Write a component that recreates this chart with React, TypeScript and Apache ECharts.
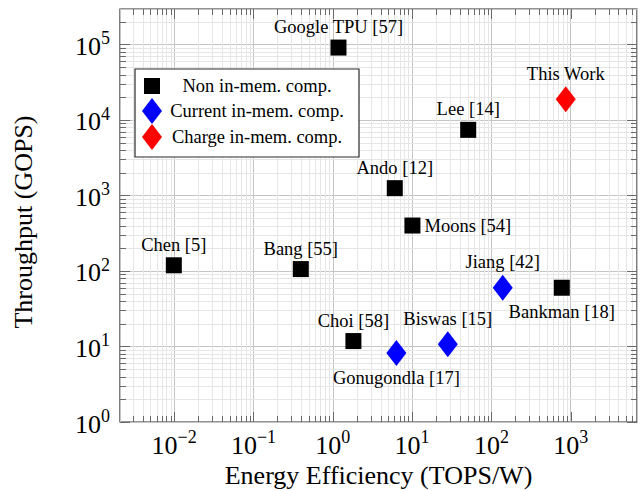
import React, { useEffect, useRef } from "react";
import * as echarts from "echarts";

// ---- data ----
const nonNames = ["Google TPU [57]", "Lee [14]", "Ando [12]", "Moons [54]", "Chen [5]", "Bang [55]", "Choi [58]", "Bankman [18]"];
const nonEff = [1.18, 51, 6.05, 10.1, 0.0099, 0.395, 1.82, 772];
const nonThr = [91000, 7400, 1250, 400, 119, 106, 11.8, 60];
const nonPos = ["top", "top", "top", "right", "top", "top", "top", "bottom"];

const curNames = ["Gonugondla [17]", "Biswas [15]", "Jiang [42]"];
const curEff = [6.34, 28.2, 139];
const curThr = [8.2, 10.7, 60];
const curPos = ["bottom", "top", "top"];

const chgNames = ["This Work"];
const chgEff = [866];
const chgThr = [18800];
const chgPos = ["top"];

const legendLabels = ["Non in-mem. comp.", "Current in-mem. comp.", "Charge in-mem. comp."];
const xTitle = "Energy Efficiency (TOPS/W)";
const yTitle = "Throughput (GOPS)";

const X_MIN = 0.002075;
const X_MAX = 6855;
const Y_MIN = 1;
const Y_MAX = 295000;

const FONT = "Liberation Serif";

function gridValues(min: number, max: number) {
  const out: number[][] = [];
  for (let e = Math.floor(Math.log10(min)); e <= Math.ceil(Math.log10(max)); e++) {
    for (let k = 1; k <= 9; k++) {
      const v = k * Math.pow(10, e);
      if (v >= min * 0.9999 && v <= max * 1.0001) out.push([v, k === 1 ? 1 : 0]);
    }
  }
  return out;
}

const supMap = (n: number) => (n < 0 ? "\u2212" + String(-n) : String(n));

function tickFormatter(v: number) {
  const e = Math.log10(v);
  const r = Math.round(e);
  if (Math.abs(e - r) > 1e-6) return "";
  return "{b|10}{s|" + supMap(r) + "}";
}

function mkData(names: string[], xs: number[], ys: number[], pos: string[]) {
  return names.map((n, i) => {
    let dist = 3;
    if (pos[i] === "right") dist = 4;
    if (pos[i] === "bottom") dist = n.startsWith("Bankman") ? 7 : 2;
    return {
      name: n,
      value: [xs[i], ys[i]],
      label: { position: pos[i], distance: dist },
    };
  });
}

export default function App() {
  const ref = useRef<HTMLDivElement>(null);
  useEffect(() => {
    if (!ref.current) return;
    const chart = echarts.init(ref.current, null, { renderer: "svg" });
    const xg = gridValues(X_MIN, X_MAX);
    const yg = gridValues(Y_MIN, Y_MAX);
    const tickColor = "#6a6a6a";
    const minorColor = "#e6e6e6";
    const LBL = 18.5;
    const labelStyle = {
      show: true,
      formatter: "{b}",
      color: "#000",
      fontFamily: FONT,
      fontSize: LBL,
    };
    const richLbl = {
      b: { fontSize: 26, fontFamily: FONT, color: "#000", lineHeight: 30, verticalAlign: "bottom" },
      s: { fontSize: 18, fontFamily: FONT, color: "#000", verticalAlign: "top", lineHeight: 30 },
    };
    const lgText = (t: string, y: number) => ({
      type: "text",
      z: 101,
      x: 257,
      y,
      style: { text: t, fill: "#000", fontFamily: FONT, fontSize: LBL, align: "center", verticalAlign: "middle" },
    });
    const option: any = {
      animation: false,
      backgroundColor: "#fff",
      textStyle: { fontFamily: FONT },
      grid: {
        left: 120,
        right: 3,
        top: 9,
        bottom: 69,
        show: true,
        containLabel: false,
        outerBoundsMode: "none",
        borderColor: "#2b2b2b",
        borderWidth: 1.2,
        backgroundColor: "transparent",
      },
      xAxis: {
        type: "log",
        logBase: 10,
        min: X_MIN,
        max: X_MAX,
        splitNumber: 7,
        axisLine: { show: false },
        axisTick: { show: false },
        splitLine: { show: true, lineStyle: { color: "#c4c4c4", width: 1 } },
        axisLabel: { formatter: tickFormatter, rich: richLbl, margin: 6, showMinLabel: true, showMaxLabel: true },
        name: xTitle,
        nameLocation: "middle",
        nameGap: 38,
        nameTextStyle: { fontFamily: FONT, fontSize: 26, color: "#000" },
      },
      yAxis: {
        type: "log",
        logBase: 10,
        min: Y_MIN,
        max: Y_MAX,
        splitNumber: 5,
        axisLine: { show: false },
        axisTick: { show: false },
        splitLine: { show: true, lineStyle: { color: "#c4c4c4", width: 1 } },
        axisLabel: { formatter: tickFormatter, rich: richLbl, margin: 10 },
        name: yTitle,
        nameLocation: "middle",
        nameGap: 84,
        nameTextStyle: { fontFamily: FONT, fontSize: 26, color: "#000", padding: [0, 13, 0, 0] },
      },
      series: [
        {
          type: "custom",
          silent: true,
          z: 1,
          data: xg.map((d) => [d[0], 1, d[1]]),
          renderItem: (params: any, api: any) => {
            const cs = params.coordSys;
            const x = Math.round(api.coord([api.value(0), 1])[0]) + 0.5;
            const major = api.value(2) === 1;
            const len = major ? 10 : 6;
            const ch: any[] = [];
            if (!major)
              ch.push({ type: "line", shape: { x1: x, y1: cs.y, x2: x, y2: cs.y + cs.height }, style: { stroke: minorColor, lineWidth: 1 } });
            ch.push({ type: "line", shape: { x1: x, y1: cs.y + cs.height, x2: x, y2: cs.y + cs.height - len }, style: { stroke: tickColor, lineWidth: 1 } });
            ch.push({ type: "line", shape: { x1: x, y1: cs.y, x2: x, y2: cs.y + len }, style: { stroke: tickColor, lineWidth: 1 } });
            return { type: "group", children: ch };
          },
        },
        {
          type: "custom",
          silent: true,
          z: 1,
          data: yg.map((d) => [1, d[0], d[1]]),
          renderItem: (params: any, api: any) => {
            const cs = params.coordSys;
            const y = Math.round(api.coord([1, api.value(1)])[1]) + 0.5;
            const major = api.value(2) === 1;
            const len = major ? 10 : 6;
            const ch: any[] = [];
            if (!major)
              ch.push({ type: "line", shape: { x1: cs.x, y1: y, x2: cs.x + cs.width, y2: y }, style: { stroke: minorColor, lineWidth: 1 } });
            ch.push({ type: "line", shape: { x1: cs.x, y1: y, x2: cs.x + len, y2: y }, style: { stroke: tickColor, lineWidth: 1 } });
            ch.push({ type: "line", shape: { x1: cs.x + cs.width, y1: y, x2: cs.x + cs.width - len, y2: y }, style: { stroke: tickColor, lineWidth: 1 } });
            return { type: "group", children: ch };
          },
        },
        {
          name: legendLabels[0],
          type: "scatter",
          z: 5,
          symbol: "rect",
          symbolSize: 16,
          itemStyle: { color: "#000", opacity: 1 },
          label: labelStyle,
          data: mkData(nonNames, nonEff, nonThr, nonPos),
        },
        {
          name: legendLabels[1],
          type: "scatter",
          z: 5,
          symbol: "diamond",
          symbolSize: [20, 26],
          itemStyle: { color: "#0000ff", opacity: 1 },
          label: labelStyle,
          data: mkData(curNames, curEff, curThr, curPos),
        },
        {
          name: legendLabels[2],
          type: "scatter",
          z: 5,
          symbol: "diamond",
          symbolSize: [20, 26],
          itemStyle: { color: "#ff0000", opacity: 1 },
          label: labelStyle,
          data: mkData(chgNames, chgEff, chgThr, chgPos),
        },
      ],
      graphic: [
        { type: "rect", z: 100, shape: { x: 135, y: 69, width: 224, height: 88 }, style: { fill: "#fff", stroke: "#2b2b2b", lineWidth: 1.2 } },
        { type: "rect", z: 101, shape: { x: 144, y: 78, width: 16, height: 16 }, style: { fill: "#000" } },
        { type: "polygon", z: 101, shape: { points: [[152, 98], [162, 111], [152, 124], [142, 111]] }, style: { fill: "#0000ff" } },
        { type: "polygon", z: 101, shape: { points: [[152, 124], [162, 137], [152, 150], [142, 137]] }, style: { fill: "#ff0000" } },
        lgText(legendLabels[0], 86),
        lgText(legendLabels[1], 111),
        lgText(legendLabels[2], 137),
      ],
    };
    chart.setOption(option);
    return () => chart.dispose();
  }, []);
  return <div ref={ref} style={{ width: 640, height: 491, position: "absolute", left: 0, top: 0 }} />;
}
